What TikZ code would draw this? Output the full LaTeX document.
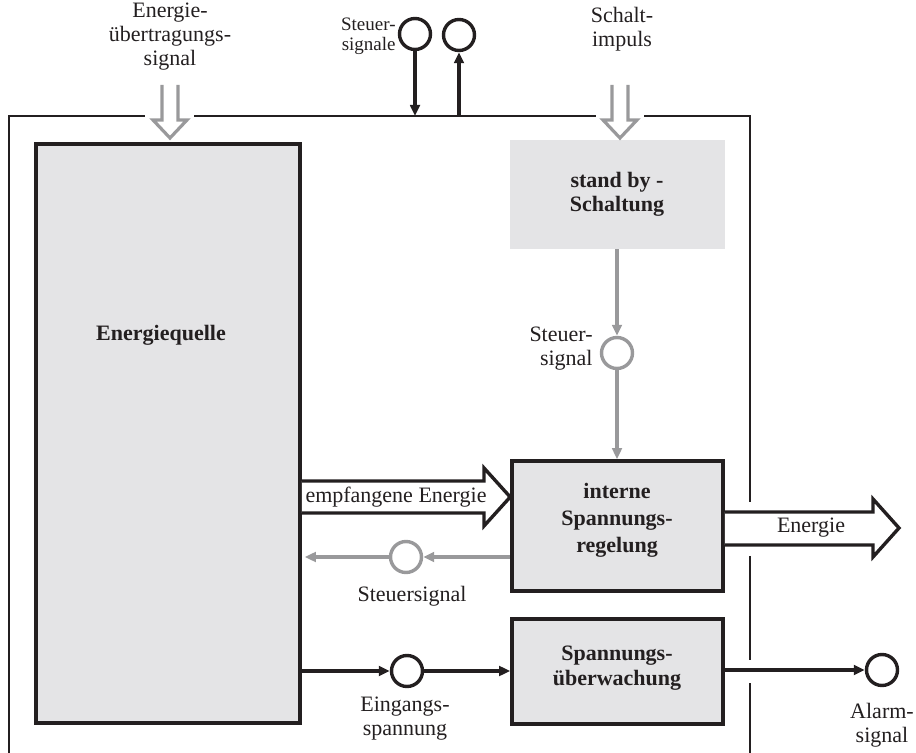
\documentclass[tikz,border=0pt]{standalone}
\usepackage{fontspec}
\setmainfont{Liberation Serif}
\usetikzlibrary{arrows.meta,calc,fit}
\definecolor{ink}{RGB}{35,31,32}
\definecolor{sig}{RGB}{153,153,155}
\definecolor{boxgray}{RGB}{228,228,230}
\tikzset{
  frameline/.style={draw=ink, line width=0.85pt},
  blk/.style={draw=ink, line width=1.8pt, fill=boxgray, inner sep=0pt},
  softblk/.style={fill=boxgray, inner sep=0pt},
  conn/.style={draw=ink, line width=1.8pt, -{Triangle[length=5.5pt,width=4.8pt]}},
  gconn/.style={draw=sig, line width=1.6pt, -{Triangle[length=5.5pt,width=4.8pt]}},
  dot/.style={circle, draw=ink, line width=1.7pt, fill=white, inner sep=0pt, minimum size=15.5pt},
  gdot/.style={dot, draw=sig},
  lbl/.style={font=\fontsize{11}{12}\selectfont, align=center, text=ink, inner sep=0pt},
  small/.style={font=\fontsize{9.5}{10}\selectfont, align=right, text=ink, inner sep=0pt},
  btxt/.style={font=\fontsize{11}{12.5}\selectfont\bfseries, align=center, text=ink, inner sep=0pt},
  hollow/.style={draw=ink, line width=1.7pt, fill=white, line join=miter},
  dbl/.style={draw=sig, line width=1.6pt, line join=miter, miter limit=10}
}
\begin{document}
\begin{tikzpicture}[x=0.5pt,y=-0.5pt]
\useasboundingbox (0,0) rectangle (916,753);

% outer frame with openings for the incoming signals and outgoing lines
\draw[frameline] (9,753) -- (9,116) -- (145,116);
\draw[frameline] (194,116) -- (596,116);
\draw[frameline] (644,116) -- (750,116) -- (750,502);
\draw[frameline] (750,556) -- (750,660);
\draw[frameline] (750,683) -- (750,753);

% blocks
\node[blk, fit={(36,144) (300,723)}] (quelle) {};
\node[softblk, fit={(510,140) (725,249)}] (sb) {};
\node[blk, fit={(512,461) (723,591)}] (interne) {};
\node[blk, fit={(512,619) (723,724)}] (ueber) {};

\node[btxt] (quelleT) at (161,335) {Energiequelle};
\node[btxt, font=\fontsize{11}{12}\selectfont\bfseries] (sbT) at (617,194) {stand by -\\Schaltung};
\node[btxt, font=\fontsize{11}{13.5}\selectfont\bfseries] (interneT) at (617,520) {interne\\Spannungs-\\regelung};
\node[btxt] (ueberT) at (617,668) {Spannungs-\\überwachung};

% incoming double-line arrows
\coordinate (ein) at (170,138);
\coordinate (schalt) at (620,138);
\draw[dbl] ($(ein)+(-8,-53)$) -- ++(0,35) -- ++(-9,0) -- (ein) -- ++(17,-18) -- ++(-9,0) -- ++(0,-35);
\draw[dbl] ($(schalt)+(-8,-53)$) -- ++(0,35) -- ++(-9,0) -- (schalt) -- ++(17,-18) -- ++(-9,0) -- ++(0,-35);
\node[lbl] (einT) at (170,37) {Energie-\\übertragungs-\\signal};
\node[lbl] (schaltT) at (622,29) {Schalt-\\impuls};

% control signals at the top
\node[dot] (st1) at (415,34) {};
\node[dot] (st2) at (459,35) {};
\coordinate (f1) at (415,116);
\coordinate (f2) at (459,116);
\draw[conn] (st1) -- (f1);
\draw[conn] (f2) -- (st2);
\node[small, anchor=east] (stT) at (396,36) {Steuer-\\signale};

% stand-by control path
\node[gdot] (cs) at (617,353) {};
\draw[gconn] (sb.south -| cs) -- (cs);
\draw[gconn] (cs) -- (interne.north -| cs);
\node[lbl, align=right, anchor=east] (csT) at (593,349) {Steuer-\\signal};

% received energy
\draw[hollow] (quelle.east |- 0,481) -- (484,481) -- (484,468) -- (interne.west |- 0,497)
  -- (484,526) -- (484,513) -- (quelle.east |- 0,513);
\node[lbl] (empT) at (396,497) {empfangene Energie};

% delivered energy
\draw[hollow] (interne.east |- 0,512) -- (873,512) -- (873,499) -- (899,528)
  -- (873,557) -- (873,545) -- (interne.east |- 0,545);
\node[lbl] (enT) at (811,528) {Energie};

% feedback control signal
\node[gdot] (ch) at (406,557) {};
\draw[gconn] (interne.west |- ch) -- (ch);
\draw[gconn] (ch) -- ($(quelle.east |- ch)+(3,0)$);
\node[lbl] (chT) at (412,596) {Steuersignal};

% input voltage monitoring
\node[dot] (ce) at (407,671) {};
\draw[conn] (quelle.east |- ce) -- (ce);
\draw[conn] (ce) -- (ueber.west |- ce);
\node[lbl] (ceT) at (405,719) {Eingangs-\\spannung};

% alarm output
\node[dot] (ca) at (882,670) {};
\draw[conn] (ueber.east |- ca) -- (ca);
\node[lbl] (caT) at (882,725) {Alarm-\\signal};
\end{tikzpicture}
\end{document}
